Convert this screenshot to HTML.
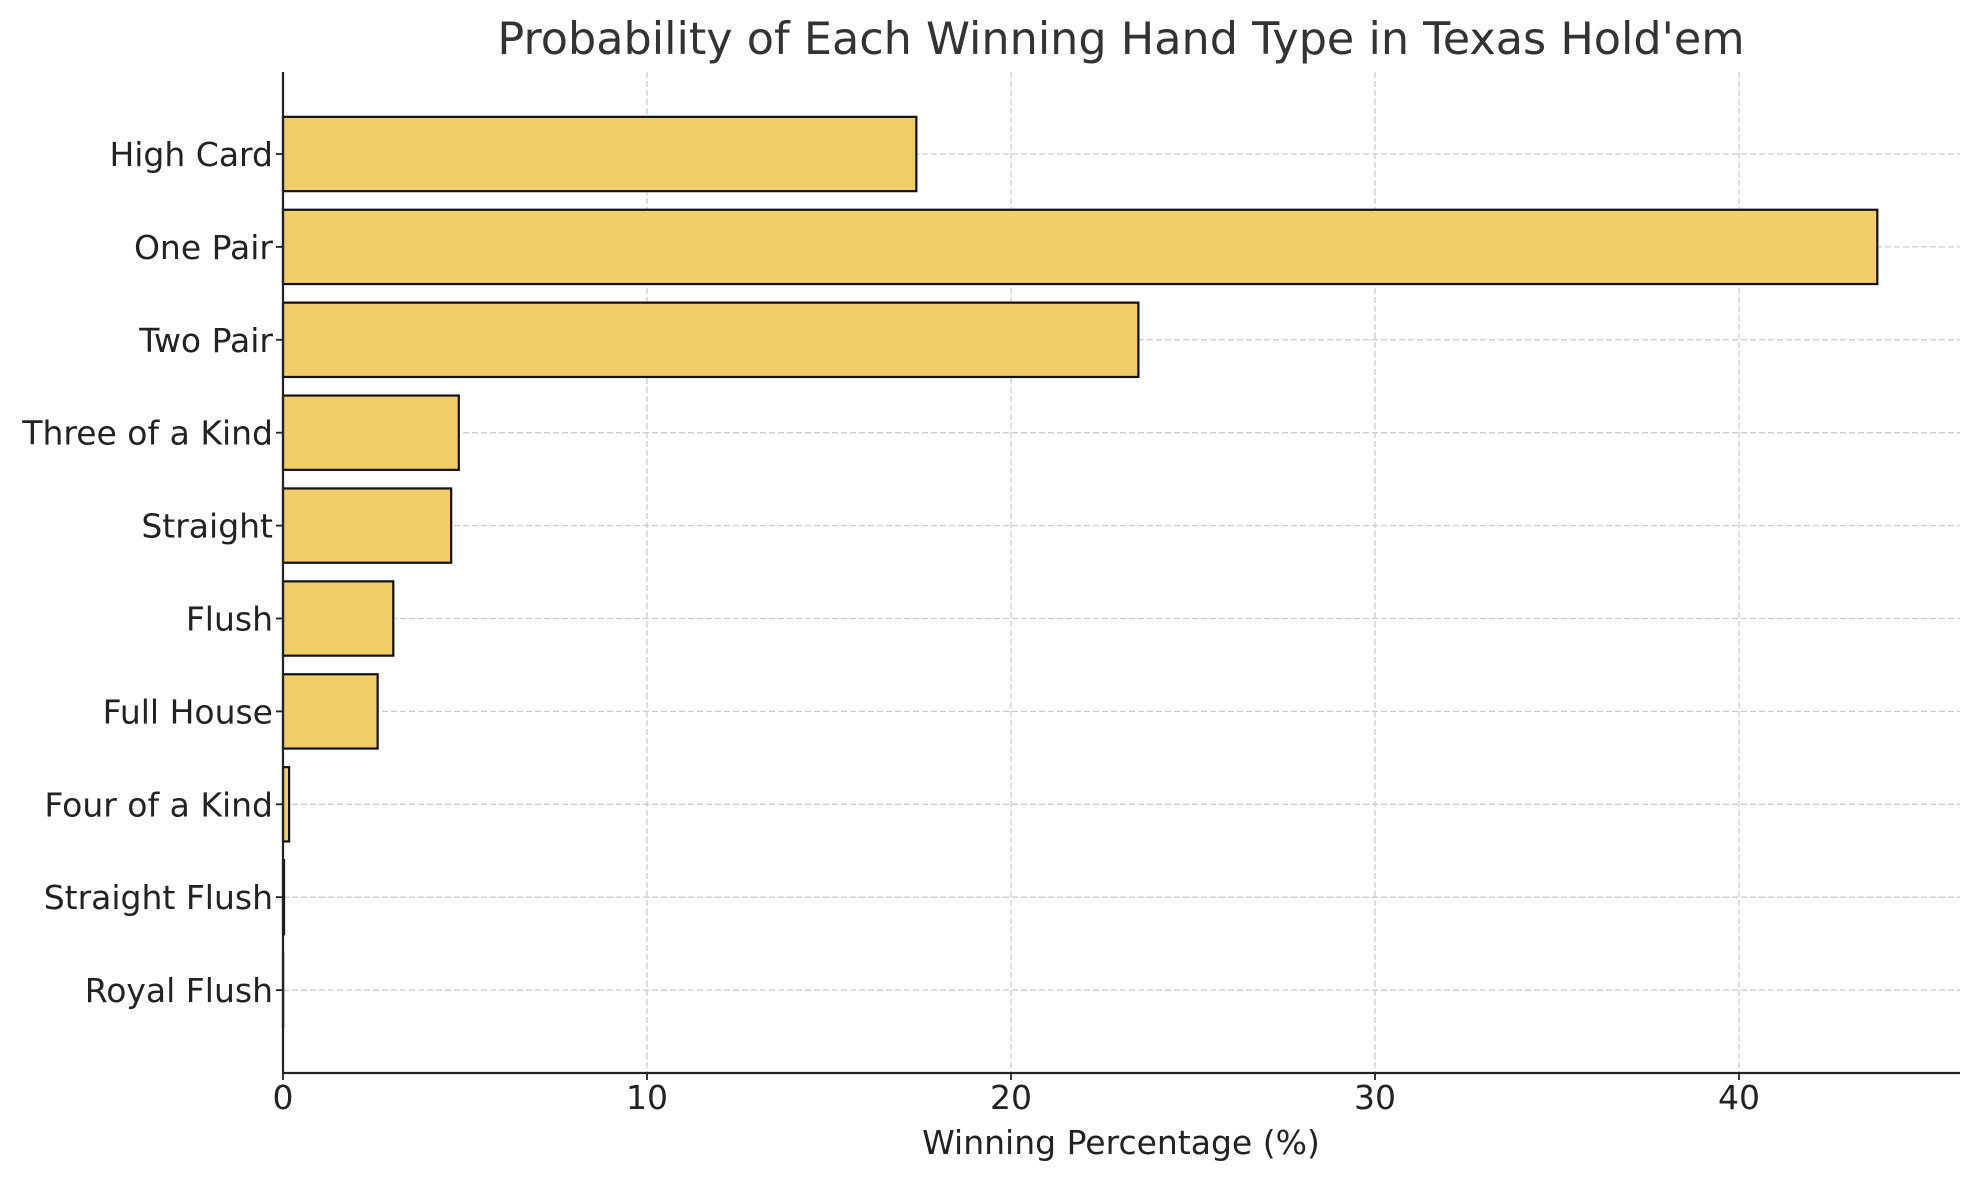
<!DOCTYPE html>
<html><head><meta charset="utf-8"><style>
body{margin:0;background:#fff;}
svg{display:block;font-family:"DejaVu Sans","Liberation Sans",sans-serif;}
</style></head><body>
<svg id="chart" width="1979" height="1180"></svg>
<script>
const categories=["High Card","One Pair","Two Pair","Three of a Kind","Straight","Flush","Full House","Four of a Kind","Straight Flush","Royal Flush"];
const values=[17.4,43.8,23.5,4.83,4.62,3.03,2.6,0.168,0.0279,0.0032];
const xTicks=[0,10,20,30,40];
const NS="http://www.w3.org/2000/svg";
const svg=document.getElementById('chart');
const L=283,R=1960,T=72,B=1073;
const x=v=>L+v*36.4;
const rowStep=92.9, row0=154;
const y=i=>row0+i*rowStep;
const bh=74.3;
function mk(tag,attrs,parent){const e=document.createElementNS(NS,tag);for(const k in attrs)e.setAttribute(k,attrs[k]);(parent||svg).appendChild(e);return e;}
xTicks.forEach(t=>{
  const g=mk('line',{x1:x(t),x2:x(t),y1:T,y2:B,stroke:'#cccccc','stroke-width':1.3,'stroke-dasharray':'6,3'});
  
  
});
categories.forEach((c,i)=>{
  const g=mk('line',{x1:L,x2:R,y1:y(i),y2:y(i),stroke:'#cccccc','stroke-width':1.3,'stroke-dasharray':'6,3'});
  
  
});
categories.forEach((c,i)=>{
  const r=mk('rect',{x:L,y:y(i)-bh/2,width:Math.max(0,x(values[i])-L),height:bh,fill:'#f0cd69',stroke:'#111','stroke-width':2.2});
  
  
});
let s=mk('line',{x1:L,x2:L,y1:T,y2:B,stroke:'#222','stroke-width':2.2});


s=mk('line',{x1:L-1,x2:R,y1:B,y2:B,stroke:'#222','stroke-width':2.2});


categories.forEach((c,i)=>{
  mk('line',{x1:L-7,x2:L,y1:y(i),y2:y(i),stroke:'#222','stroke-width':1.8});
  const t=mk('text',{x:L-10,y:y(i)+12,'text-anchor':'end','font-size':33,fill:'#222'});
  t.textContent=c;
  
  
});
xTicks.forEach(v=>{
  mk('line',{x1:x(v),x2:x(v),y1:B,y2:B+7,stroke:'#222','stroke-width':1.8});
  const t=mk('text',{x:x(v),y:B+36,'text-anchor':'middle','font-size':33,fill:'#222'});
  t.textContent=v;
  
  
});
let t=mk('text',{x:1121,y:1154,'text-anchor':'middle','font-size':33,fill:'#222'});
t.textContent="Winning Percentage (%)";


t=mk('text',{x:1121,y:54,'text-anchor':'middle','font-size':44.5,fill:'#333'});
t.textContent="Probability of Each Winning Hand Type in Texas Hold'em";


</script>
</body></html>
